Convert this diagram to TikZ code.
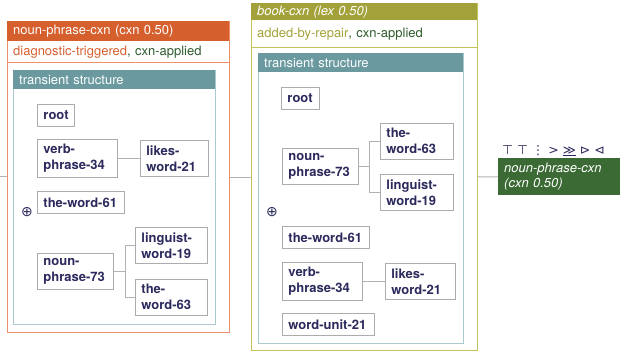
\documentclass[tikz,border=0pt]{standalone}
\usepackage{fontspec}
\setmainfont{TeX Gyre Heros}
\newfontfamily\symfont{DejaVu Sans}
\usetikzlibrary{positioning}

\definecolor{cxnorange}{HTML}{D65F2E}
\definecolor{cxnorangeline}{HTML}{EC8F6A}
\definecolor{cxnolive}{HTML}{A3A23A}
\definecolor{cxnoliveline}{HTML}{C2C258}
\definecolor{tsteal}{HTML}{6A999F}
\definecolor{tstealline}{HTML}{A9C9CD}
\definecolor{unitnavy}{HTML}{2C2A5C}
\definecolor{applied}{HTML}{2E5B2C}
\definecolor{resultgreen}{HTML}{3B6A35}

\begin{document}
\begin{tikzpicture}[
  x=1pt, y=-1pt,
  unit/.style={font=\fontsize{13}{16}\selectfont\bfseries, draw=gray!65, line width=0.9pt,
    fill=white, text=unitnavy, align=left, anchor=north west,
    inner xsep=6pt, inner ysep=5pt, minimum height=22pt},
  frame/.style={draw=#1, line width=1.2pt, anchor=north west, inner sep=0pt},
  headbar/.style={fill=#1, text=white, anchor=north west, align=left,
    inner xsep=6pt, inner ysep=0pt, font=\fontsize{13}{16}\selectfont},
  status/.style={anchor=north west, align=left, inner xsep=6pt, inner ysep=0pt,
    font=\fontsize{13}{16}\selectfont},
  link/.style={draw=gray!60, line width=0.9pt},
  plussign/.style={text=unitnavy, font=\symfont\fontsize{14}{14}\selectfont, inner sep=0pt},
  result/.style={fill=resultgreen, text=white, anchor=north west, align=left,
    inner xsep=6pt, inner ysep=0pt, minimum height=37pt,
    font=\fontsize{13}{15.5}\selectfont\itshape}
]
\useasboundingbox (0,0) rectangle (623,351);

% first construction: noun-phrase-cxn
\node[frame=cxnorangeline, minimum width=222pt, minimum height=311pt] (cxnA) at (7,21) {};
\node[headbar=cxnorange, text width=210pt, minimum height=20pt] (headA) at (7,21) {noun-phrase-cxn (cxn 0.50)};
\node[status, text width=210pt, minimum height=21pt] (statusA) at (headA.south west)
  {\textcolor{cxnorange}{diagnostic-triggered}\textcolor{applied}{, cxn-applied}};
\draw[cxnorangeline, line width=1.2pt] (statusA.south west) -- (statusA.south east);

\node[frame=tstealline, minimum width=202pt, minimum height=254pt] (tsA) at (13,70) {};
\node[headbar=tsteal, text width=190pt, minimum height=19pt] (tsheadA) at (13,70) {transient structure};

\node[unit, text width=25pt] (rootA) at (37,104) {root};
\node[unit, text width=68pt] (verbA) at (37,139) {verb-\\phrase-34};
\node[unit, text width=56pt, right=22pt of verbA] (likesA) {likes-\\word-21};
\node[unit, text width=75pt] (the61A) at (37,191) {the-word-61};
\node[plussign] (plusA) at (27,212) {⊕};
\node[unit, text width=60pt] (ling19A) at (135,227) {linguist-\\word-19};
\node[unit, text width=64pt] (noun73A) at (37,253) {noun-\\phrase-73};
\node[unit, text width=60pt] (the63A) at (135,279) {the-\\word-63};

\draw[link] (verbA) -- (likesA);
\draw[link] (noun73A.east) -- ++(12,0) coordinate (forkA);
\draw[link] (forkA) |- (ling19A.west);
\draw[link] (forkA) |- (the63A.west);

% second construction: book-cxn
\node[frame=cxnoliveline, minimum width=226pt, minimum height=347pt] (cxnB) at (251,3) {};
\node[headbar=cxnolive, text width=214pt, minimum height=17pt,
  font=\fontsize{13}{16}\selectfont\itshape] (headB) at (251,3) {book-cxn (lex 0.50)};
\node[status, text width=214pt, minimum height=27pt] (statusB) at (headB.south west)
  {\textcolor{cxnolive}{added-by-repair}\textcolor{applied}{, cxn-applied}};
\draw[cxnoliveline, line width=1.2pt] (statusB.south west) -- (statusB.south east);

\node[frame=tstealline, minimum width=205pt, minimum height=290pt] (tsB) at (258,53) {};
\node[headbar=tsteal, text width=193pt, minimum height=19pt] (tsheadB) at (258,53) {transient structure};

\node[unit, text width=26pt] (rootB) at (281,87) {root};
\node[unit, text width=64pt] (noun73B) at (282,148) {noun-\\phrase-73};
\node[unit, text width=61pt] (the63B) at (380,123) {the-\\word-63};
\node[unit, text width=61pt] (ling19B) at (380,174) {linguist-\\word-19};
\node[plussign] (plusB) at (272,212) {⊕};
\node[unit, text width=75pt] (the61B) at (282,226) {the-word-61};
\node[unit, text width=68pt] (verbB) at (282,262) {verb-\\phrase-34};
\node[unit, text width=58pt, right=22pt of verbB] (likesB) {likes-\\word-21};
\node[unit, text width=80pt] (unit21B) at (282,313) {word-unit-21};

\draw[link] (verbB) -- (likesB);
\draw[link] (noun73B.east) -- ++(11,0) coordinate (forkB);
\draw[link] (forkB) |- (the63B.west);
\draw[link] (forkB) |- (ling19B.west);

% result
\node[result, text width=110pt] (resultC) at (498,158) {noun-phrase-cxn\\(cxn 0.50)};
\node[anchor=base west, inner sep=0pt, text=unitnavy, font=\symfont\fontsize{12.5}{12.5}\selectfont]
  (goalC) at (502,154) {⊤ ⊤ ⋮ > \underline{≫} ⊳ ⊲};

% search tree links
\coordinate (entry) at (0,176.5);
\draw[link] (entry) -- (cxnA);
\draw[link] (cxnA) -- (cxnB);
\draw[link] (cxnB) -- (resultC);

\end{tikzpicture}
\end{document}
